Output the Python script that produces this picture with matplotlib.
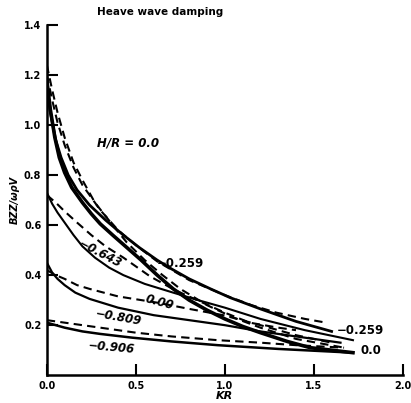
import matplotlib.pyplot as plt

# curves: (KR, BZZ/wpV)
kr_00_solid = [0, 0.02, 0.045, 0.07, 0.1, 0.14, 0.2, 0.25, 0.3, 0.37, 0.45, 0.53, 0.62, 0.71, 0.8, 0.9,
               1.0, 1.1, 1.2, 1.35, 1.48, 1.6, 1.72]
bz_00_solid = [1.18, 1.06, 0.95, 0.87, 0.81, 0.75, 0.69, 0.645, 0.605, 0.56, 0.51, 0.46, 0.40, 0.345, 0.30, 0.26,
               0.225, 0.195, 0.17, 0.135, 0.11, 0.10, 0.09]
kr_00_dash = [0, 0.03, 0.06, 0.1, 0.15, 0.2, 0.27, 0.37, 0.45, 0.55, 0.65, 0.75, 0.9, 1.05, 1.2, 1.4, 1.67]
bz_00_dash = [1.24, 1.14, 1.05, 0.95, 0.85, 0.78, 0.69, 0.60, 0.53, 0.46, 0.40, 0.345, 0.28, 0.23, 0.19, 0.145, 0.11]

kr_259_solid = [0, 0.02, 0.05, 0.08, 0.12, 0.17, 0.24, 0.33, 0.43, 0.52, 0.62, 0.7, 0.8, 0.92, 1.03, 1.2, 1.4, 1.6]
bz_259_solid = [1.15, 1.05, 0.94, 0.87, 0.80, 0.74, 0.68, 0.62, 0.56, 0.51, 0.46, 0.425, 0.385, 0.345, 0.31,
                0.265, 0.215, 0.175]
kr_259_dash = [0, 0.03, 0.06, 0.1, 0.15, 0.2, 0.3, 0.4, 0.5, 0.62, 0.8, 1.0, 1.15, 1.29, 1.45, 1.57]
bz_259_dash = [1.2, 1.1, 1.01, 0.92, 0.83, 0.76, 0.66, 0.58, 0.52, 0.455, 0.38, 0.32, 0.28, 0.25, 0.225, 0.21]

kr_643_solid = [0, 0.03, 0.06, 0.1, 0.15, 0.2, 0.27, 0.35, 0.43, 0.55, 0.71, 0.85, 1.0, 1.2, 1.45, 1.72]
bz_643_solid = [0.73, 0.685, 0.65, 0.61, 0.56, 0.515, 0.47, 0.43, 0.40, 0.365, 0.33, 0.30, 0.27, 0.225, 0.18, 0.14]
kr_643_dash = [0, 0.05, 0.1, 0.17, 0.25, 0.33, 0.43, 0.5, 0.58, 0.72, 0.86, 1.0, 1.14, 1.3, 1.4]
bz_643_dash = [0.72, 0.69, 0.655, 0.61, 0.56, 0.515, 0.47, 0.435, 0.395, 0.34, 0.295, 0.25, 0.21, 0.19, 0.18]

kr_809_solid = [0, 0.03, 0.06, 0.1, 0.16, 0.24, 0.4, 0.6, 0.8, 1.0, 1.2, 1.45, 1.65]
bz_809_solid = [0.45, 0.41, 0.385, 0.36, 0.33, 0.305, 0.27, 0.24, 0.22, 0.20, 0.175, 0.15, 0.13]
kr_809_dash = [0, 0.05, 0.1, 0.17, 0.24, 0.4, 0.62, 0.8, 0.99, 1.2, 1.4, 1.6]
bz_809_dash = [0.42, 0.40, 0.385, 0.36, 0.345, 0.315, 0.29, 0.265, 0.24, 0.20, 0.16, 0.13]

kr_906_solid = [0, 0.05, 0.1, 0.2, 0.3, 0.48, 0.7, 0.96, 1.3, 1.72]
bz_906_solid = [0.21, 0.20, 0.19, 0.175, 0.165, 0.15, 0.135, 0.12, 0.105, 0.09]
kr_906_dash = [0, 0.1, 0.3, 0.5, 0.7, 0.96, 1.2, 1.4, 1.67]
bz_906_dash = [0.22, 0.21, 0.19, 0.17, 0.155, 0.14, 0.13, 0.12, 0.11]

xticks = [0.0, 0.5, 1.0, 1.5, 2.0]
yticks = [0.2, 0.4, 0.6, 0.8, 1.0, 1.2, 1.4]

fig = plt.figure(figsize=(4.11, 4.03), dpi=100)
ax = fig.add_axes([0.114, 0.069, 0.866, 0.869])

dash = (0, (4, 2.5))
ax.plot(kr_00_solid, bz_00_solid, color='black', lw=2.6)
ax.plot(kr_00_dash, bz_00_dash, color='black', lw=1.5, ls=dash)
ax.plot(kr_259_solid, bz_259_solid, color='black', lw=2.0)
ax.plot(kr_259_dash, bz_259_dash, color='black', lw=1.5, ls=dash)
ax.plot(kr_643_solid, bz_643_solid, color='black', lw=1.5)
ax.plot(kr_643_dash, bz_643_dash, color='black', lw=1.5, ls=dash)
ax.plot(kr_809_solid, bz_809_solid, color='black', lw=1.6)
ax.plot(kr_809_dash, bz_809_dash, color='black', lw=1.5, ls=dash)
ax.plot(kr_906_solid, bz_906_solid, color='black', lw=1.8)
ax.plot(kr_906_dash, bz_906_dash, color='black', lw=1.5, ls=dash)

lab = dict(fontsize=8.5, fontweight='bold', color='black')
ax.text(0.28, 0.93, 'H/R = 0.0', style='italic', va='center', **lab)
ax.text(0.62, 0.445, '\u22120.259', va='center', **lab)
ax.text(0.30, 0.485, '\u22120.643', style='italic', rotation=-28, ha='center', va='center', **lab)
ax.text(0.635, 0.29, '0.00', style='italic', rotation=-15, ha='center', va='center', **lab)
ax.text(0.40, 0.23, '\u22120.809', style='italic', rotation=-10, ha='center', va='center', **lab)
ax.text(0.36, 0.11, '\u22120.906', style='italic', rotation=-5, ha='center', va='center', **lab)
ax.text(1.63, 0.18, '\u22120.259', va='center', **lab)
ax.text(1.76, 0.10, '0.0', va='center', **lab)

ax.set_xlim(0, 2.0)
ax.set_ylim(0, 1.4)
ax.set_xticks(xticks)
ax.set_xticklabels([f'{v:.1f}' for v in xticks], fontsize=7, fontweight='bold')
ax.set_yticks(yticks)
ax.set_yticklabels([f'{v:.1f}' for v in yticks], fontsize=7, fontweight='bold')
ax.tick_params(direction='in', length=8, width=1.5, pad=4)
ax.spines['top'].set_visible(False)
ax.spines['right'].set_visible(False)
ax.spines['left'].set_linewidth(1.8)
ax.spines['bottom'].set_linewidth(1.8)

ax.set_xlabel('KR', fontsize=8, fontweight='bold', style='italic', labelpad=0)
ax.set_ylabel('BZZ/\u03c9\u03c1V', fontsize=7, fontweight='bold', style='italic')
ax.yaxis.set_label_coords(-0.075, 0.5)
fig.text(0.236, 0.962, 'Heave wave damping', fontsize=7.5, fontweight='bold')

fig.savefig('out.png', dpi=100)
